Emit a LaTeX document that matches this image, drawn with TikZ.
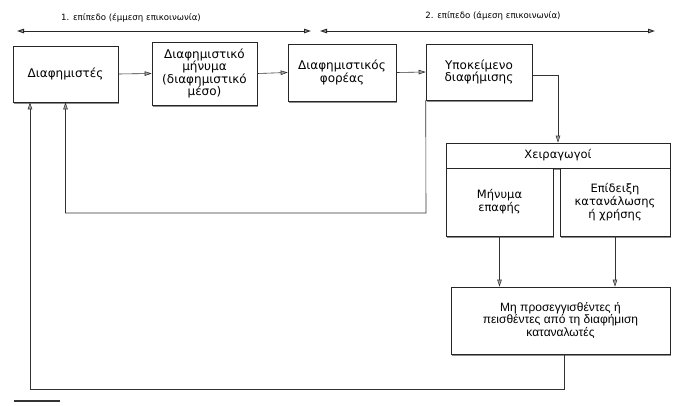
\documentclass[tikz,border=0pt]{standalone}
\usepackage{fontspec}
\setmainfont{DejaVu Sans}
\newfontfamily\lowfont{Liberation Sans}
\usetikzlibrary{arrows.meta,shadows,calc}
\begin{document}
\begin{tikzpicture}[x=1pt,y=-1pt,
  box/.style={draw=black!85,line width=0.6pt,fill=white,align=center,inner sep=0pt,
    drop shadow={shadow xshift=1.3pt,shadow yshift=-1.6pt,fill=black!45,opacity=1}},
  topfont/.style={font=\fontsize{12}{12.6}\selectfont},
  midfont/.style={font=\fontsize{11.5}{12.8}\selectfont},
  lowtext/.style={font=\lowfont\fontsize{12}{12.6}\selectfont},
  conn/.style={draw=black!80,line width=0.6pt},
  tip/.style={-{Triangle[length=7pt,width=4.5pt,fill=black!35]}},
  level/.style={draw=black!85,line width=0.9pt,{Triangle[length=7pt,width=4.5pt,fill=black!35]}-{Triangle[length=7pt,width=4.5pt,fill=black!35]}},
  lab/.style={font=\fontsize{8.6}{11}\selectfont,inner sep=0pt}]
\useasboundingbox[fill=white] (0,0) rectangle (673,405);

% level arrows
\coordinate (l1a) at (17,31);
\coordinate (l1b) at (311,31);
\coordinate (l2a) at (320,31);
\coordinate (l2b) at (655,31);
\draw[level] (l1a) -- (l1b);
\draw[level] (l2a) -- (l2b);
\node[lab] (t1) at (131,18) {1. επίπεδο (έμμεση επικοινωνία)};
\node[lab] (t2) at (493,16) {2. επίπεδο (άμεση επικοινωνία)};

% boxes
\node[box,topfont,minimum width=105,minimum height=56] (A) at (65.5,74) {Διαφημιστές};
\node[box,topfont,minimum width=105,minimum height=63] (B) at (204.5,73.5) {Διαφημιστικό\\μήνυμα\\(διαφημιστικό\\μέσο)};
\node[box,topfont,minimum width=108,minimum height=57] (C) at (342,72.5) {Διαφημιστικός\\φορέας};
\node[box,topfont,minimum width=106,minimum height=56] (D) at (479,72) {Υποκείμενο\\διαφήμισης};
\node[box,midfont,minimum width=224,minimum height=25] (E) at (558,155.5) {Χειραγωγοί};
\node[box,midfont,minimum width=107,minimum height=68] (F) at (499.5,202) {Μήνυμα\\επαφής};
\node[box,midfont,minimum width=110,minimum height=68] (G) at (615,202) {Επίδειξη\\κατανάλωσης\\ή χρήσης};
\node[box,lowtext,minimum width=219,minimum height=67] (H) at (560.5,320.5) {Μη προσεγγισθέντες ή\\πεισθέντες από τη διαφήμιση\\καταναλωτές};

% connectors
\draw[conn,tip] (A.east) -- (B.west);
\draw[conn,tip] (B.east) -- (C.west);
\draw[conn,tip] (C.east) -- (D.west);
\draw[conn,tip] ($(D.east)+(0,3)$) -| (E.north);
\coordinate (f1) at (426,213);
\draw[conn,tip] (D.south west) -- (f1) -| (A.south);
\draw[conn,tip] (F.south) -- (F.south |- H.north);
\draw[conn,tip] (G.south) -- (G.south |- H.north);
\coordinate (f2) at (30,389);
\draw[conn,tip] ($(H.south)+(3.5,0)$) |- (f2) -- (f2 |- A.south);

% short rule bottom left
\coordinate (r1) at (14,401);
\coordinate (r2) at (60,401);
\draw[line width=1.4pt,black!80] (r1) -- (r2);
\end{tikzpicture}
\end{document}
